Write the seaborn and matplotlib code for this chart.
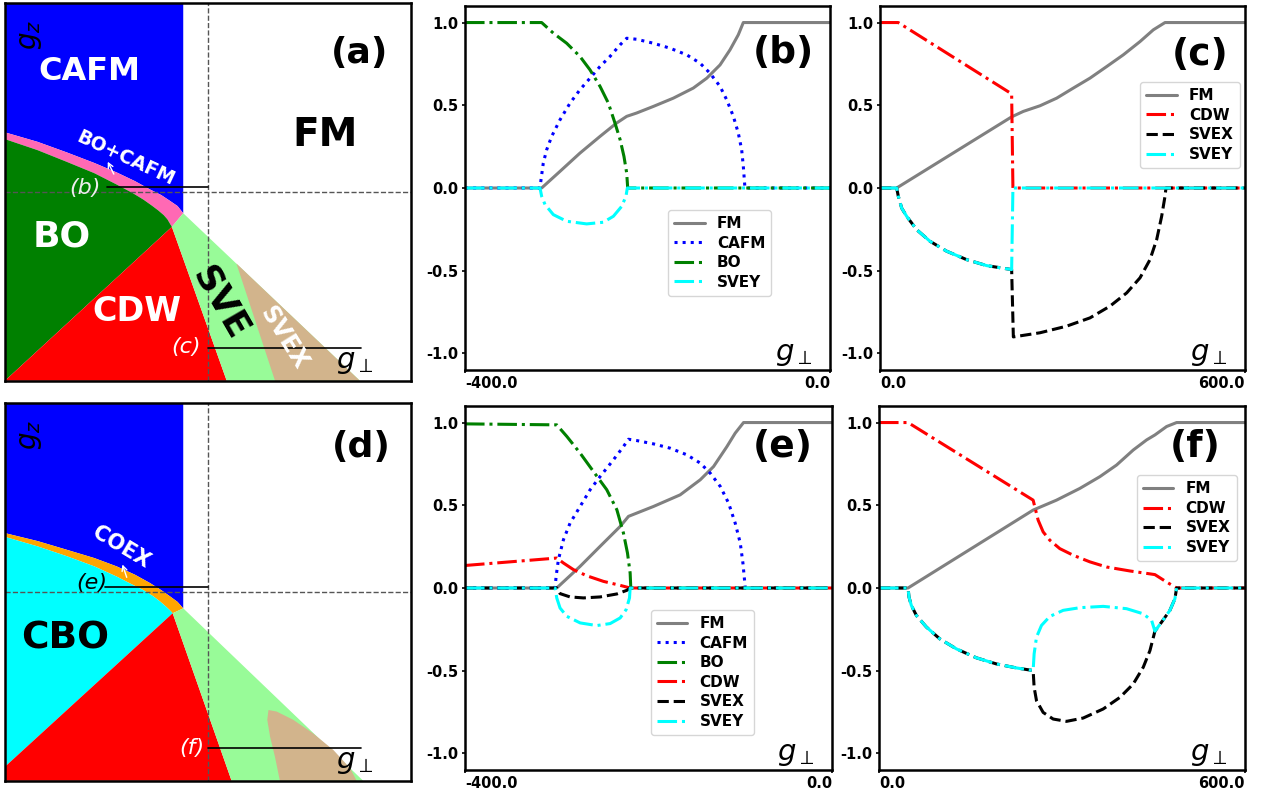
import matplotlib
matplotlib.use("Agg")
import matplotlib.pyplot as plt
import numpy as np
import pandas as pd
import seaborn as sns

# ------------------------------------------------------------------
# Tick values / labels
# ------------------------------------------------------------------
ytick_vals = [-1.0, -0.5, 0.0, 0.5, 1.0]
ytick_labels = ["-1.0", "-0.5", "0.0", "0.5", "1.0"]
xtick_neg = [-400.0, 0.0]
xtick_neg_labels = ["-400.0", "0.0"]
xtick_pos = [0.0, 600.0]
xtick_pos_labels = ["0.0", "600.0"]

# ------------------------------------------------------------------
# Panel (b): g_perp in [-400, 0]
# ------------------------------------------------------------------
b_fm_x = [-400, -316, -296, -274, -252, -234, -222.8, -212, -193.6, -171.7, -149.8, -135, -120.5, -109.6, -100.5, -95, 0]
b_fm_y = [0, 0, 0.1, 0.211, 0.312, 0.392, 0.433, 0.453, 0.493, 0.543, 0.604, 0.664, 0.744, 0.835, 0.926, 1.0, 1.0]
b_cafm_x = [-400, -317.8, -316.7, -314.2, -310.5, -305.0, -295.9, -284.9, -274.0, -263.0, -252.1, -241.1, -230.1,
            -222.8, -211.9, -193.6, -175.3, -157.1, -142.5, -131.5, -120.5, -113.2, -105.9, -100.5, -96.8, -95.0,
            -93.2, 0]
b_cafm_y = [0, 0, 0.05, 0.151, 0.231, 0.312, 0.412, 0.513, 0.594, 0.664, 0.734, 0.795, 0.865,
            0.905, 0.899, 0.875, 0.845, 0.805, 0.755, 0.694, 0.614, 0.533, 0.433, 0.332, 0.231, 0.131,
            0, 0]
b_bo_x = [-400, -316, -303.2, -288.6, -274, -263, -252, -242.9, -235.6, -230, -225.8, -222.8, -221.7, 0]
b_bo_y = [1, 1, 0.936, 0.875, 0.795, 0.714, 0.614, 0.513, 0.392, 0.292, 0.191, 0.09, 0, 0]
b_svey_x = [-400, -317.8, -316, -312.3, -303.2, -288.6, -266.7, -248.4, -237.4, -228.3, -223.6, -222.1, 0]
b_svey_y = [0, 0, -0.05, -0.1, -0.161, -0.201, -0.217, -0.207, -0.171, -0.111, -0.05, 0, 0]

# ------------------------------------------------------------------
# Panel (c): g_perp in [0, 600]
# ------------------------------------------------------------------
c_fm_x = [0, 27.4, 216.4, 235.6, 263, 290.4, 317.8, 345.2, 372.6, 400, 427.4, 449.3, 468.5, 600]
c_fm_y = [0, 0, 0.43, 0.463, 0.497, 0.543, 0.604, 0.664, 0.734, 0.805, 0.885, 0.956, 1.0, 1.0]
c_cdw_x = [0, 30, 216.4, 218.5, 600]
c_cdw_y = [1, 1, 0.569, 0, 0]
c_svex_x = [0, 27.4, 30.1, 35.6, 43.8, 60.3, 82.2, 109.6, 142.5, 175.3, 216.4, 219.2, 263, 306.8, 345.2, 378.1,
            405.5, 427.4, 443.8, 454.8, 463, 468.5, 470.1, 600]
c_svex_y = [0, 0, -0.05, -0.121, -0.171, -0.252, -0.322, -0.382, -0.433, -0.469, -0.493, -0.9, -0.875, -0.835,
            -0.785, -0.714, -0.634, -0.543, -0.433, -0.312, -0.171, -0.05, 0, 0]
c_svey_x = [0, 27.4, 30.1, 35.6, 43.8, 60.3, 82.2, 109.6, 142.5, 175.3, 216.4, 218.5, 600]
c_svey_y = [0, 0, -0.05, -0.121, -0.171, -0.252, -0.322, -0.382, -0.433, -0.469, -0.493, 0, 0]

# ------------------------------------------------------------------
# Panel (e)
# ------------------------------------------------------------------
e_fm_x = [-400, -300, -274.5, -252.7, -230.9, -221.8, -194.5, -165.5, -143.6, -129.1, -114.5, -105.5, -96.4, 0]
e_fm_y = [0, 0, 0.131, 0.252, 0.372, 0.433, 0.493, 0.563, 0.654, 0.734, 0.855, 0.936, 1.0, 1.0]
e_cafm_x = [-400, -301.8, -300.7, -298.2, -292.7, -285.5, -274.5, -263.6, -252.7, -238.2, -227.3, -221.8, -212.7,
            -194.5, -176.4, -158.2, -143.6, -132.7, -121.8, -112.7, -105.5, -100, -97.1, -94.5, 0]
e_cafm_y = [0, 0, 0.07, 0.171, 0.292, 0.392, 0.493, 0.594, 0.674, 0.775, 0.855, 0.899, 0.891,
            0.871, 0.845, 0.805, 0.755, 0.694, 0.614, 0.513, 0.392, 0.272, 0.151, 0, 0]
e_bo_x = [-400, -300, -289, -274.5, -260, -245.5, -234.5, -227.3, -222.9, -220, -219.3, 0]
e_bo_y = [0.992, 0.986, 0.916, 0.815, 0.704, 0.594, 0.473, 0.332, 0.211, 0.09, 0, 0]
e_cdw_x = [-400, -300, -292.7, -281.8, -267.3, -249.1, -230.9, -220, 0]
e_cdw_y = [0.136, 0.181, 0.151, 0.111, 0.074, 0.04, 0.016, 0, 0]
e_svex_x = [-400, -300, -296.4, -285.5, -270.9, -252.7, -234.5, -223.6, -220, 0]
e_svex_y = [0, 0, -0.034, -0.054, -0.06, -0.054, -0.036, -0.014, 0, 0]
e_svey_x = [-400, -301.8, -300, -296.4, -289.1, -274.5, -256.4, -241.8, -230.9, -224.4, -220.7, -220, 0]
e_svey_y = [0, 0, -0.06, -0.121, -0.171, -0.211, -0.227, -0.215, -0.181, -0.131, -0.06, 0, 0]

# ------------------------------------------------------------------
# Panel (f)
# ------------------------------------------------------------------
f_fm_x = [0, 47.6, 252.7, 291, 329.3, 362.1, 389.4, 416.8, 438.7, 452.3, 471.5, 487.9, 600]
f_fm_y = [0, 0, 0.471, 0.531, 0.602, 0.673, 0.743, 0.834, 0.895, 0.925, 0.976, 1.0, 1.0]
f_cdw_x = [0, 47.6, 252.7, 255.4, 260.9, 269.1, 280, 296.4, 318.3, 345.7, 373, 411.3, 452.3, 471.5, 487.9, 600]
f_cdw_y = [1, 1, 0.531, 0.491, 0.41, 0.339, 0.289, 0.238, 0.198, 0.158, 0.127, 0.103, 0.081, 0.036, 0, 0]
f_svex_x = [0, 47.6, 49.2, 53, 61.3, 77.7, 99.5, 126.9, 159.7, 192.5, 225.3, 252.7,
            254.3, 258.2, 269.1, 285.5, 307.4, 334.7, 367.6, 395, 416.8, 433.2, 444.2, 452.3,
            463.3, 476.9, 485.1, 487.9, 600]
f_svex_y = [0, 0, -0.055, -0.105, -0.166, -0.236, -0.307, -0.368, -0.422, -0.459, -0.483, -0.499,
            -0.6, -0.681, -0.752, -0.792, -0.806, -0.786, -0.731, -0.661, -0.58, -0.479, -0.378, -0.261,
            -0.206, -0.135, -0.065, 0, 0]
f_svey_x = [0, 47.6, 49.2, 53, 61.3, 77.7, 99.5, 126.9, 159.7, 192.5, 225.3, 252.7,
            254.3, 258.2, 266.4, 280, 301.9, 329.3, 367.6, 405.8, 433.2, 446.9, 452.3,
            463.3, 476.9, 485.1, 487.9, 600]
f_svey_y = [0, 0, -0.055, -0.105, -0.166, -0.236, -0.307, -0.368, -0.422, -0.459, -0.483, -0.499,
            -0.398, -0.297, -0.226, -0.172, -0.135, -0.119, -0.111, -0.125, -0.156, -0.196, -0.261,
            -0.206, -0.135, -0.065, 0, 0]

# ------------------------------------------------------------------
# Phase diagrams (normalised g_perp / g_z coordinates, 0..1)
# ------------------------------------------------------------------
a_band_up_u = [0.0, 0.08, 0.152, 0.22, 0.275, 0.32, 0.357, 0.385, 0.406, 0.425, 0.439]
a_band_up_v = [0.657, 0.632, 0.604, 0.576, 0.551, 0.528, 0.506, 0.491, 0.476, 0.462, 0.443]
a_band_lo_u = [0.0, 0.08, 0.152, 0.22, 0.275, 0.315, 0.341, 0.362, 0.378, 0.391, 0.400, 0.406, 0.411]
a_band_lo_v = [0.639, 0.610, 0.579, 0.549, 0.519, 0.496, 0.479, 0.463, 0.450, 0.438, 0.427, 0.416, 0.407]
a_cafm_edge_u = 0.439
a_cdw_u = [0.0, 0.411, 0.546]
a_cdw_v = [0.0, 0.407, 0.0]
a_sve_u = [0.411, 0.439, 0.874, 0.546]
a_sve_v = [0.407, 0.443, 0.0, 0.0]
a_svex_u = [0.570, 0.874, 0.665]
a_svex_v = [0.31, 0.0, 0.0]

d_band_up_u = [0.0, 0.08, 0.152, 0.22, 0.275, 0.32, 0.357, 0.385, 0.406, 0.425, 0.439]
d_band_up_v = [0.655, 0.634, 0.611, 0.589, 0.567, 0.545, 0.523, 0.504, 0.488, 0.473, 0.456]
d_band_lo_u = [0.0, 0.08, 0.152, 0.22, 0.275, 0.315, 0.341, 0.365, 0.382, 0.396, 0.406, 0.413]
d_band_lo_v = [0.645, 0.620, 0.594, 0.567, 0.540, 0.518, 0.504, 0.488, 0.474, 0.461, 0.451, 0.443]
d_cafm_edge_u = 0.439
d_cdw_u = [0.0, 0.0, 0.413, 0.558]
d_cdw_v = [0.0, 0.037, 0.443, 0.0]
d_sve_u = [0.413, 0.439, 0.882, 0.558]
d_sve_v = [0.443, 0.456, 0.0, 0.0]
d_svex_u = [0.677, 0.665, 0.653, 0.646, 0.649, 0.669, 0.710, 0.759, 0.809, 0.850, 0.866]
d_svex_v = [0.0, 0.063, 0.116, 0.161, 0.187, 0.183, 0.161, 0.125, 0.081, 0.033, 0.0]

cut_u = 0.501
cut_v = 0.5
cut_upper_v = 0.512
cut_lower_v = 0.0857

C_CAFM = "#0000ff"
C_PINK = "#ff69b4"
C_BO = "#008000"
C_CDW = "#ff0000"
C_SVE = "#98fb98"
C_SVEX = "#d2b48c"
C_CBO = "#00ffff"
C_COEX = "#ffa500"

# ------------------------------------------------------------------
sns.set_theme(style="white")
plt.rcParams["font.family"] = ["DejaVu Sans"]
plt.rcParams["axes.unicode_minus"] = False
plt.rcParams["mathtext.fontset"] = "dejavusans"
plt.rcParams["text.color"] = "black"
plt.rcParams["xtick.color"] = "black"
plt.rcParams["ytick.color"] = "black"
plt.rcParams["axes.labelcolor"] = "black"

fig = plt.figure(figsize=(12.66, 7.94), dpi=100)
W, H = 1266.0, 794.0


def add_ax(x0, y0, x1, y1):
    return fig.add_axes([x0 / W, 1 - y1 / H, (x1 - x0) / W, (y1 - y0) / H])


def style_spines(ax, lw=1.8):
    for s in ax.spines.values():
        s.set_visible(True)
        s.set_color("black")
        s.set_linewidth(lw)


def phase_common(ax, band_up_u, band_up_v, band_lo_u, band_lo_v, edge_u,
                 band_color, low_color, low_extra, cdw_u, cdw_v,
                 sve_u, sve_v, svex_u, svex_v, cut_start_upper):
    ax.set_xlim(0, 1)
    ax.set_ylim(0, 1)
    ax.set_xticks([])
    ax.set_yticks([])
    ax.set_facecolor("white")
    cu = [0.0, edge_u, edge_u] + band_up_u[::-1]
    cv = [1.0, 1.0, band_up_v[-1]] + band_up_v[::-1]
    ax.fill(cu, cv, color=C_CAFM, lw=0)
    ax.fill(band_up_u + band_lo_u[::-1], band_up_v + band_lo_v[::-1], color=band_color, lw=0)
    ax.fill(band_lo_u + low_extra[0], band_lo_v + low_extra[1], color=low_color, lw=0)
    ax.fill(cdw_u, cdw_v, color=C_CDW, lw=0)
    ax.fill(sve_u, sve_v, color=C_SVE, lw=0)
    ax.fill(svex_u, svex_v, color=C_SVEX, lw=0)
    ax.axvline(cut_u, color="#555555", ls="--", lw=1.0)
    ax.axhline(cut_v, color="#555555", ls="--", lw=1.0)
    ax.plot([cut_start_upper, cut_u], [cut_upper_v, cut_upper_v], color="black", lw=1.2)
    ax.plot([cut_u, 0.876], [cut_lower_v, cut_lower_v], color="black", lw=1.2)
    ax.text(0.062, 0.915, r"$g_z$", rotation=90, fontsize=20, ha="center", va="center", color="black")
    ax.text(0.862, 0.05, r"$g_\perp$", fontsize=21, ha="center", va="center", color="black")
    style_spines(ax)


# ---------------- panel (a) ----------------
ax_a = add_ax(5, 2.7, 411, 380.7)
phase_common(ax_a, a_band_up_u, a_band_up_v, a_band_lo_u, a_band_lo_v, a_cafm_edge_u,
             C_PINK, C_BO, ([0.0], [0.0]), a_cdw_u, a_cdw_v, a_sve_u, a_sve_v,
             a_svex_u, a_svex_v, 0.25)
ax_a.text(0.209, 0.817, "CAFM", color="white", fontsize=23, fontweight="bold", ha="center", va="center")
ax_a.text(0.874, 0.866, "(a)", color="black", fontsize=26, fontweight="bold", ha="center", va="center")
ax_a.text(0.788, 0.65, "FM", color="black", fontsize=28, fontweight="bold", ha="center", va="center")
ax_a.text(0.296, 0.588, "BO+CAFM", color="white", fontsize=13.5, fontweight="bold", ha="center",
          va="center", rotation=-25)
ax_a.annotate("", xy=(0.25, 0.586), xytext=(0.271, 0.540),
              arrowprops=dict(arrowstyle="->,head_length=0.3,head_width=0.15", color="white", lw=1))
ax_a.text(0.197, 0.509, "(b)", color="#eeeeee", fontsize=16, style="italic", ha="center", va="center")
ax_a.text(0.14, 0.381, "BO", color="white", fontsize=26, fontweight="bold", ha="center", va="center")
ax_a.text(0.324, 0.183, "CDW", color="white", fontsize=24, fontweight="bold", ha="center", va="center")
ax_a.text(0.53, 0.205, "SVE", color="black", fontsize=26, fontweight="bold", ha="center", va="center",
          rotation=-60)
ax_a.text(0.686, 0.112, "SVEX", color="white", fontsize=17, fontweight="bold", ha="center", va="center",
          rotation=-58)
ax_a.text(0.447, 0.09, "(c)", color="white", fontsize=16, style="italic", ha="center", va="center")

# ---------------- panel (d) ----------------
ax_d = add_ax(5, 402.7, 411, 780.7)
phase_common(ax_d, d_band_up_u, d_band_up_v, d_band_lo_u, d_band_lo_v, d_cafm_edge_u,
             C_COEX, C_CBO, ([0.0], [0.037]), d_cdw_u, d_cdw_v, d_sve_u, d_sve_v,
             d_svex_u, d_svex_v, 0.246)
ax_d.text(0.878, 0.884, "(d)", color="black", fontsize=26, fontweight="bold", ha="center", va="center")
ax_d.text(0.287, 0.619, "COEX", color="white", fontsize=15, fontweight="bold", ha="center", va="center",
          rotation=-31)
ax_d.annotate("", xy=(0.287, 0.579), xytext=(0.302, 0.531),
              arrowprops=dict(arrowstyle="->,head_length=0.3,head_width=0.15", color="white", lw=1))
ax_d.text(0.214, 0.522, "(e)", color="black", fontsize=16, style="italic", ha="center", va="center")
ax_d.text(0.148, 0.377, "CBO", color="black", fontsize=27, fontweight="bold", ha="center", va="center")
ax_d.text(0.46, 0.086, "(f)", color="white", fontsize=16, style="italic", ha="center", va="center")


# ---------------- line panels ----------------
def line_panel(ax, series, xlim, xticks, xticklabels, leg_loc, leg_anchor, tag, tag_pos):
    handles = []
    for name, xs, ys, color, ls in series:
        sns.lineplot(x=xs, y=ys, ax=ax, color=color, linestyle=ls, linewidth=2.2,
                     sort=False, estimator=None, legend=False)
        ln = ax.lines[-1]
        ln.set_label(name)
        handles.append(ln)
    ax.set_xlim(*xlim)
    ax.set_ylim(-1.1, 1.1)
    ax.set_yticks(ytick_vals)
    ax.set_yticklabels(ytick_labels, fontsize=10.5, fontweight="bold", color="black")
    ax.set_xticks(xticks)
    labs = ax.set_xticklabels(xticklabels, fontsize=10.5, fontweight="bold", color="black")
    labs[0].set_horizontalalignment("left")
    labs[-1].set_horizontalalignment("right")
    ax.tick_params(axis="both", length=2, pad=2.5, color="black", width=1.2)
    ax.tick_params(axis="both", which="both", left=True, bottom=True)
    ax.set_xlabel("")
    ax.set_ylabel("")
    ax.legend(handles=handles, loc=leg_loc, bbox_to_anchor=leg_anchor, borderaxespad=0,
              prop=dict(weight="bold", size=11), frameon=True, fancybox=True,
              framealpha=0.8, edgecolor="0.8", handlelength=2.0, labelspacing=0.3)
    ax.text(tag_pos[0], tag_pos[1], tag, transform=ax.transAxes, fontsize=27,
            fontweight="bold", ha="center", va="center", color="black")
    ax.text(0.9, 0.045, r"$g_\perp$", transform=ax.transAxes, fontsize=21, ha="center", va="center",
            color="black")
    style_spines(ax)


ax_b = add_ax(465, 6, 830, 370)
line_panel(ax_b,
           [("FM", b_fm_x, b_fm_y, "gray", "-"),
            ("CAFM", b_cafm_x, b_cafm_y, "blue", ":"),
            ("BO", b_bo_x, b_bo_y, "green", "-."),
            ("SVEY", b_svey_x, b_svey_y, "cyan", "-.")],
           (-400, 0), xtick_neg, xtick_neg_labels, "upper left", (0.556, 0.44), "(b)", (0.871, 0.871))

ax_c = add_ax(880, 6, 1245, 370)
line_panel(ax_c,
           [("FM", c_fm_x, c_fm_y, "gray", "-"),
            ("CDW", c_cdw_x, c_cdw_y, "red", "-."),
            ("SVEX", c_svex_x, c_svex_y, "black", "--"),
            ("SVEY", c_svey_x, c_svey_y, "cyan", "-.")],
           (0, 600), xtick_pos, xtick_pos_labels, "upper right", (0.986, 0.791), "(c)", (0.877, 0.865))

ax_e = add_ax(465, 406, 832, 770)
line_panel(ax_e,
           [("FM", e_fm_x, e_fm_y, "gray", "-"),
            ("CAFM", e_cafm_x, e_cafm_y, "blue", ":"),
            ("BO", e_bo_x, e_bo_y, "green", "-."),
            ("CDW", e_cdw_x, e_cdw_y, "red", "-."),
            ("SVEX", e_svex_x, e_svex_y, "black", "--"),
            ("SVEY", e_svey_x, e_svey_y, "cyan", "-.")],
           (-400, 0), xtick_neg, xtick_neg_labels, "upper left", (0.506, 0.44), "(e)", (0.866, 0.888))

ax_f = add_ax(879, 406, 1245, 770)
line_panel(ax_f,
           [("FM", f_fm_x, f_fm_y, "gray", "-"),
            ("CDW", f_cdw_x, f_cdw_y, "red", "-."),
            ("SVEX", f_svex_x, f_svex_y, "black", "--"),
            ("SVEY", f_svey_x, f_svey_y, "cyan", "-.")],
           (0, 600), xtick_pos, xtick_pos_labels, "upper right", (0.977, 0.81), "(f)", (0.863, 0.888))

fig.savefig("out.png", dpi=100)
